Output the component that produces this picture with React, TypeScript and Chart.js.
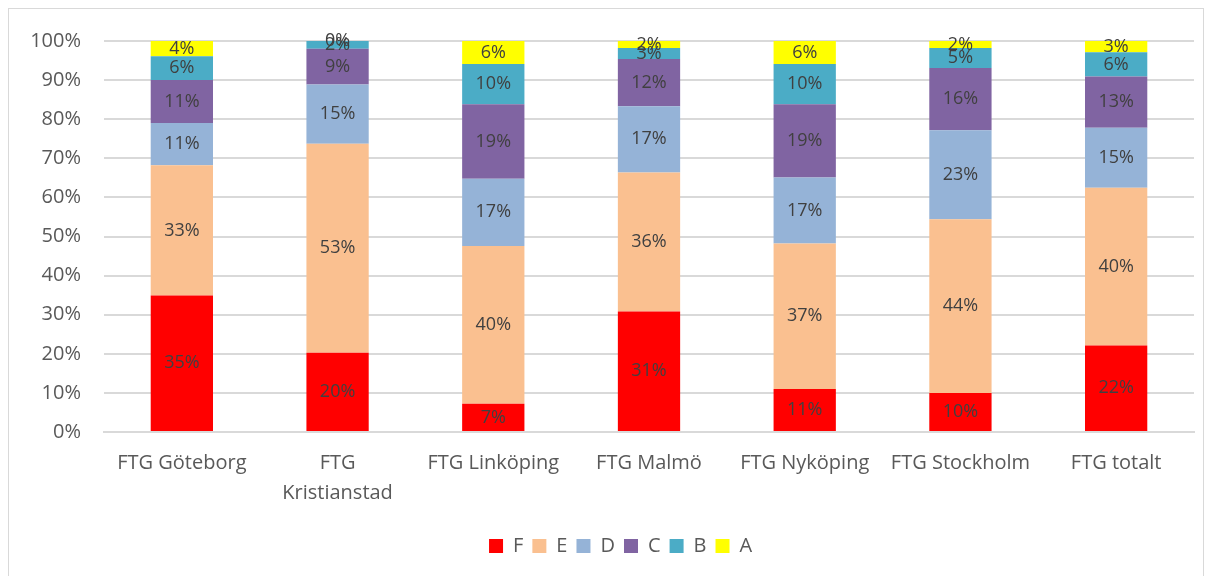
import React, { useEffect, useRef } from "react";
import { Chart, registerables } from "chart.js";

Chart.register(...registerables);

const categories: (string | string[])[] = [
  "FTG Göteborg",
  ["FTG", "Kristianstad"],
  "FTG Linköping",
  "FTG Malmö",
  "FTG Nyköping",
  "FTG Stockholm",
  "FTG totalt",
];

const seriesF = [34.9, 20.3, 7.2, 30.8, 11.0, 10.0, 22.1];
const seriesE = [33.3, 53.4, 40.4, 35.6, 37.2, 44.4, 40.4];
const seriesD = [10.8, 15.2, 17.2, 16.9, 16.9, 22.8, 15.3];
const seriesC = [11.0, 9.1, 19.0, 12.1, 18.7, 15.9, 13.1];
const seriesB = [6.1, 2.0, 10.3, 2.8, 10.3, 5.1, 6.2];
const seriesA = [3.9, 0.0, 5.9, 1.8, 5.9, 1.8, 2.9];

const yTicks = [0, 10, 20, 30, 40, 50, 60, 70, 80, 90, 100];

const FONT = "'Open Sans', 'Noto Sans', sans-serif";

const labelPlugin = {
  id: "segLabels",
  afterDatasetsDraw(chart: any) {
    const ctx = chart.ctx;
    ctx.save();
    ctx.font = `18px ${FONT}`;
    ctx.fillStyle = "#404040";
    ctx.textAlign = "center";
    ctx.textBaseline = "middle";
    chart.data.datasets.forEach((ds: any, i: number) => {
      const meta = chart.getDatasetMeta(i);
      meta.data.forEach((bar: any, j: number) => {
        const v = ds.data[j];
        const y = (bar.y + bar.base) / 2;
        ctx.fillText(Math.round(v) + "%", bar.x, y);
      });
    });
    ctx.restore();
  },
};

export default function App() {
  const ref = useRef<HTMLCanvasElement>(null);
  useEffect(() => {
    if (!ref.current) return;
    const mk = (label: string, data: number[], color: string) => ({
      label,
      data,
      backgroundColor: color,
      borderWidth: 0,
      barPercentage: 0.4,
      categoryPercentage: 1,
    });
    const chart = new Chart(ref.current, {
      type: "bar",
      data: {
        labels: categories as any,
        datasets: [
          mk("F", seriesF, "#FF0000"),
          mk("E", seriesE, "#FAC090"),
          mk("D", seriesD, "#95B3D7"),
          mk("C", seriesC, "#8064A2"),
          mk("B", seriesB, "#4BACC6"),
          mk("A", seriesA, "#FFFF00"),
        ],
      },
      options: {
        animation: false,
        responsive: true,
        maintainAspectRatio: false,
        layout: { padding: { top: 32, right: 9, bottom: 13, left: 0 } },
        plugins: {
          legend: {
            position: "bottom",
            labels: {
              boxWidth: 14,
              boxHeight: 14,
              padding: 9,
              color: "#595959",
              font: { family: FONT, size: 20 },
              generateLabels: (chart: any) => {
                const items = Chart.defaults.plugins.legend.labels.generateLabels(chart);
                return [
                  {
                    text: " ",
                    fillStyle: "rgba(0,0,0,0)",
                    strokeStyle: "rgba(0,0,0,0)",
                    lineWidth: 0,
                    hidden: false,
                    datasetIndex: -1,
                  } as any,
                  ...items,
                ];
              },
            },
          },
          tooltip: { enabled: false },
        },
        scales: {
          x: {
            stacked: true,
            grid: { display: false },
            border: { color: "#d9d9d9", width: 2 },
            afterFit: (s: any) => {
              s.height += 11;
            },
            ticks: {
              color: "#595959",
              font: { family: FONT, size: 20, lineHeight: 1.5 },
              padding: 8,
              maxRotation: 0,
              autoSkip: false,
            },
          },
          y: {
            stacked: true,
            min: 0,
            max: 100,
            afterFit: (s: any) => {
              s.width = 95;
              s.paddingTop = 0;
              s.paddingBottom = 0;
            },
            afterBuildTicks: (s: any) => {
              s.ticks = yTicks.map((v) => ({ value: v }));
            },
            grid: { color: "#d9d9d9", lineWidth: 2, drawTicks: false },
            border: { display: false },
            ticks: {
              color: "#595959",
              font: { family: FONT, size: 20 },
              padding: 23,
              callback: (v: any) => v + "%",
            },
          },
        },
      },
      plugins: [labelPlugin],
    });
    return () => chart.destroy();
  }, []);
  return (
    <div
      style={{
        width: 1194,
        height: 570,
        border: "1px solid #d9d9d9",
        background: "#fff",
      }}
    >
      <canvas ref={ref} />
    </div>
  );
}
